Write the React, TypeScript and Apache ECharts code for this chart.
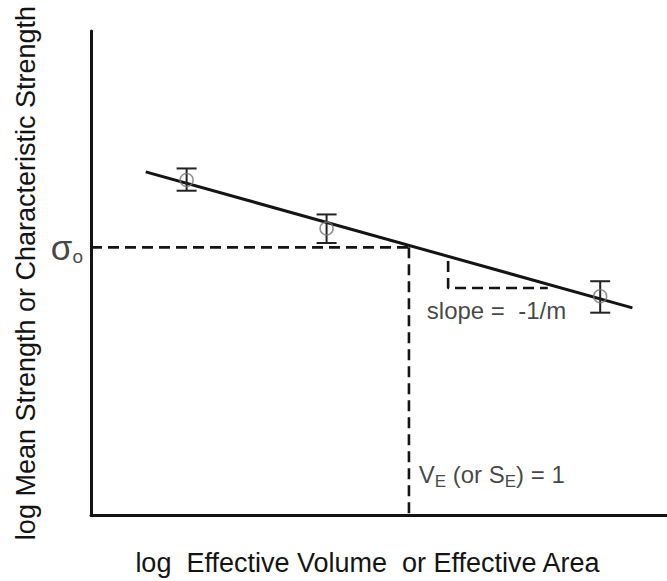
import React, { useEffect, useRef } from "react";
import * as echarts from "echarts";

// Fitted line (log strength vs log effective volume), arbitrary 0-100 units
const lineX = [9.5, 94];
const lineY = [70.9, 42.8];
// Measured points with scatter bands
const pointX = [16.6, 40.9, 88.4];
const pointY = [69.2, 59.2, 45.2];
const errLow = [67.0, 56.2, 41.8];
const errHigh = [71.6, 62.1, 48.3];
// Characteristic strength at unit effective volume
const sigmaO = 55.3;
const unitVolumeX = 55.2;
// Slope triangle
const slopeX = [62.0, 62.0, 79.3];
const slopeY = [52.5, 46.9, 46.9];
// Text anchors
const slopeLabelAt = [58.3, 42.2];
const unitLabelAt = [56.9, 8.3];

const xTitle = "log  Effective Volume  or Effective Area";
const yTitle = "log Mean Strength or Characteristic Strength";

const FONT = "'Liberation Sans', Arial, Helvetica, sans-serif";
const INK = "#141414";

export default function App() {
  const ref = useRef<HTMLDivElement>(null);
  useEffect(() => {
    document.body.style.margin = "0";
    const chart = echarts.init(ref.current!, null, { renderer: "svg" });
    const dashed = { color: INK, width: 2.6, type: [11, 6] as any };
    const option: any = {
      animation: false,
      backgroundColor: "#ffffff",
      textStyle: { fontFamily: FONT },
      grid: { left: 91, right: 0, top: 31, bottom: 57 },
      xAxis: {
        type: "value",
        min: 0,
        max: 100,
        name: xTitle,
        nameLocation: "middle",
        nameGap: 34,
        nameTextStyle: { fontSize: 27, color: INK, fontFamily: FONT, padding: [0, 23, 0, 0] },
        axisLine: { show: true, lineStyle: { color: INK, width: 3 } },
        axisTick: { show: false },
        axisLabel: { show: false },
        splitLine: { show: false },
      },
      yAxis: {
        type: "value",
        min: 0,
        max: 100,
        name: yTitle,
        nameLocation: "middle",
        nameGap: 52,
        nameTextStyle: { fontSize: 27, color: INK, fontFamily: FONT },
        axisLine: { show: true, lineStyle: { color: INK, width: 3 } },
        axisTick: { show: false },
        axisLabel: { show: false },
        splitLine: { show: false },
      },
      series: [
        {
          type: "line",
          data: [[0, sigmaO], [unitVolumeX, sigmaO]],
          symbol: "none",
          lineStyle: dashed,
          z: 2,
        },
        {
          type: "line",
          data: [[unitVolumeX, sigmaO], [unitVolumeX, 0]],
          symbol: "none",
          lineStyle: dashed,
          z: 2,
        },
        {
          type: "line",
          data: slopeX.map((x, i) => [x, slopeY[i]]),
          symbol: "none",
          lineStyle: dashed,
          z: 2,
        },
        {
          type: "line",
          data: lineX.map((x, i) => [x, lineY[i]]),
          symbol: "none",
          lineStyle: { color: INK, width: 3 },
          z: 3,
        },
        {
          type: "custom",
          data: pointX.map((x, i) => [x, errLow[i], errHigh[i]]),
          renderItem: (params: any, api: any) => {
            const x = api.value(0);
            const top = api.coord([x, api.value(2)]);
            const bot = api.coord([x, api.value(1)]);
            const half = 10;
            const st = { stroke: "#222", lineWidth: 2 };
            return {
              type: "group",
              children: [
                { type: "line", shape: { x1: top[0], y1: top[1], x2: bot[0], y2: bot[1] }, style: st },
                { type: "line", shape: { x1: top[0] - half, y1: top[1], x2: top[0] + half, y2: top[1] }, style: st },
                { type: "line", shape: { x1: bot[0] - half, y1: bot[1], x2: bot[0] + half, y2: bot[1] }, style: st },
              ],
            };
          },
          z: 4,
        },
        {
          type: "scatter",
          data: pointX.map((x, i) => [x, pointY[i]]),
          symbol: "circle",
          symbolSize: 13,
          itemStyle: { color: "rgba(255,255,255,0)", borderColor: "#777", borderWidth: 1.5 },
          z: 5,
        },
        {
          type: "scatter",
          symbolSize: 0,
          silent: true,
          data: [
            {
              value: [0, sigmaO],
              label: {
                show: true,
                position: "left",
                distance: 8,
                formatter: "{a|σ}{b|o}",
                rich: {
                  a: { fontSize: 35, color: INK, fontFamily: FONT },
                  b: { fontSize: 19, color: INK, fontFamily: FONT, padding: [18, 0, 0, 0] },
                },
              },
            },
            {
              value: slopeLabelAt,
              label: {
                show: true,
                position: "right",
                distance: 0,
                formatter: "slope =  -1/m",
                fontSize: 24,
                color: INK,
                fontFamily: FONT,
              },
            },
            {
              value: unitLabelAt,
              label: {
                show: true,
                position: "right",
                distance: 0,
                formatter: "{m|V}{s|E}{m| (or S}{s|E}{m|) = 1}",
                rich: {
                  m: { fontSize: 24, color: INK, fontFamily: FONT },
                  s: { fontSize: 17, color: INK, fontFamily: FONT, padding: [14, 0, 0, 0] },
                },
              },
            },
          ],
          z: 6,
        },
      ],
    };
    chart.setOption(option);
    return () => chart.dispose();
  }, []);
  return <div ref={ref} style={{ width: 667, height: 581 }} />;
}
